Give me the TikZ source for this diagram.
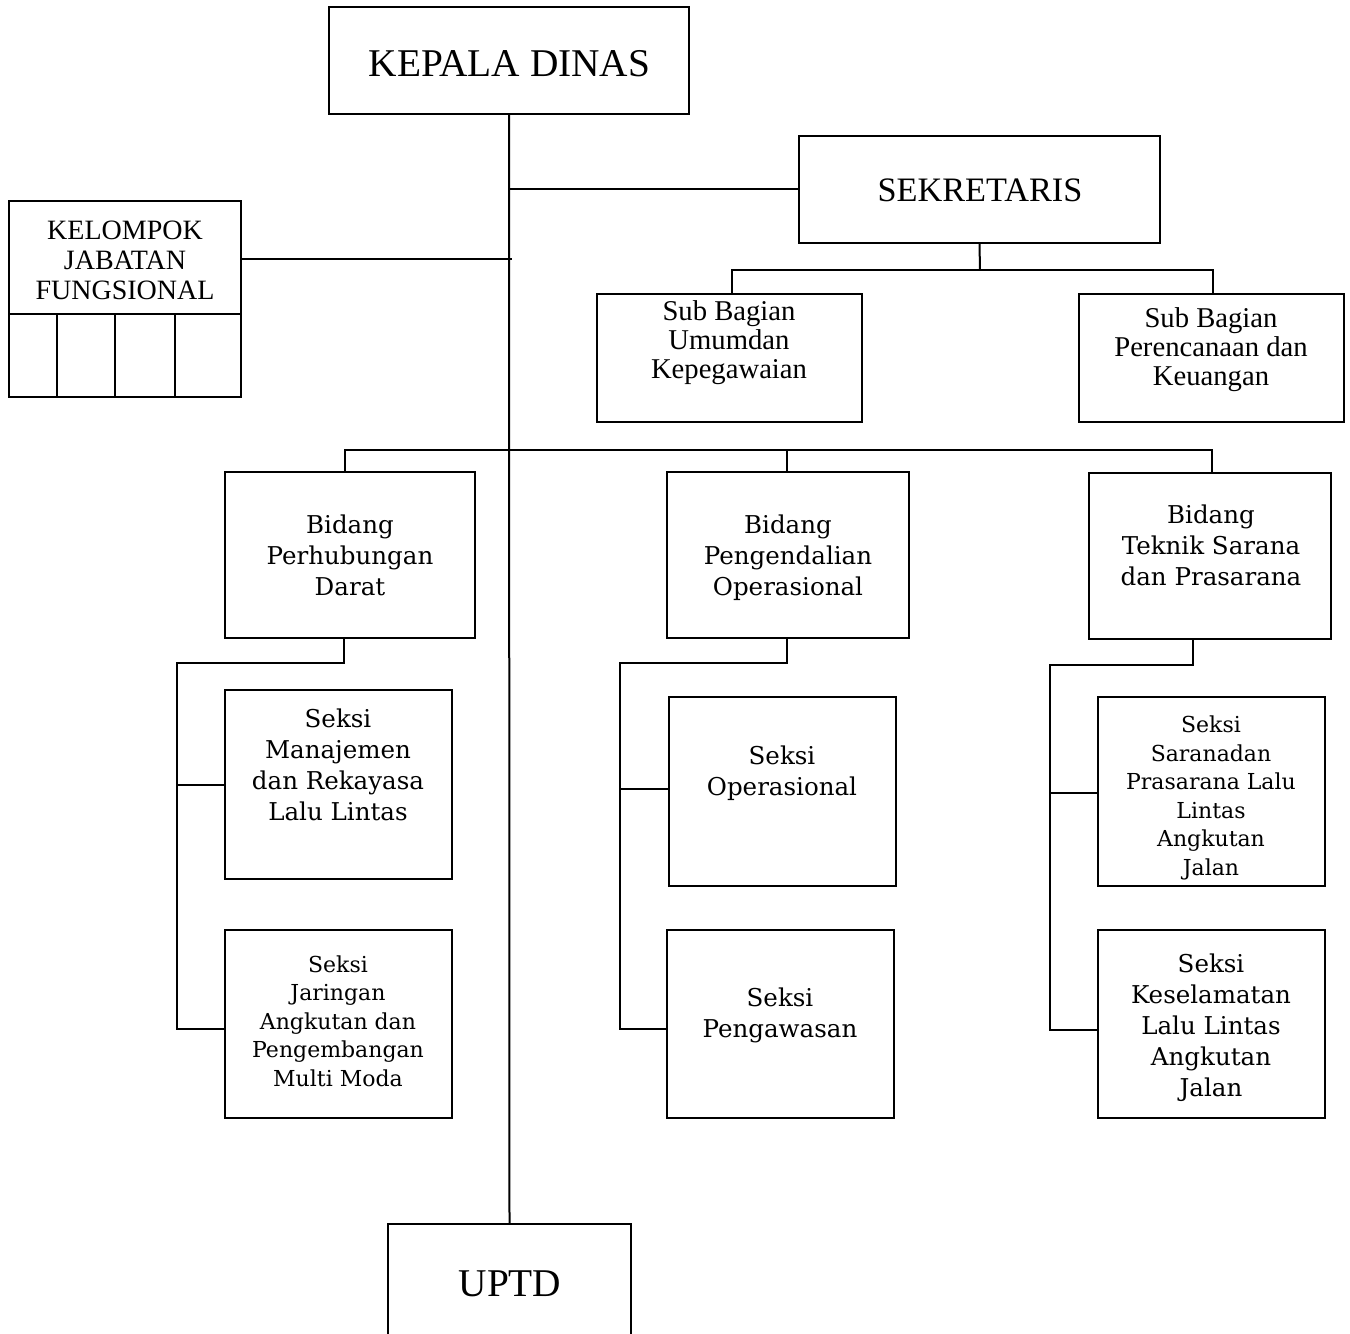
\documentclass[tikz,border=0pt]{standalone}
\usepackage{fontspec}
\setmainfont{DejaVu Serif}
\newfontfamily\headfont{Liberation Serif}
\usetikzlibrary{fit}
\begin{document}
\begin{tikzpicture}[x=0.75pt,y=-0.75pt,
  line width=1.5pt,
  box/.style={draw,inner sep=0pt,rectangle},
  frame/.style={inner sep=0pt,rectangle},
  txt/.style={inner sep=0pt,align=center},
  big/.style={txt,font=\fontsize{18.4}{23.2}\selectfont},
  small/.style={txt,font=\fontsize{16.5}{21.4}\selectfont},
  head/.style={txt,font=\headfont\fontsize{29.5}{34}\selectfont},
  sub/.style={txt,font=\headfont\fontsize{21.5}{21.8}\selectfont},
]
\useasboundingbox (0,0) rectangle (1350,1334);

% top level
\node[box,fit={(329,7) (689,114)}] (kd) {};
\node[head] (kdt) at (509.5,64) {KEPALA DINAS};
\node[box,fit={(799,136) (1160,243)}] (sek) {};
\node[head,font=\headfont\fontsize{25.7}{30}\selectfont] (sekt) at (980,190) {SEKRETARIS};

% functional group with its empty cells
\node[box,fit={(9,201) (241,314)}] (kjf) {};
\node[txt,font=\headfont\fontsize{21}{22.5}\selectfont] (kjft) at (125,260) {KELOMPOK\\JABATAN\\FUNGSIONAL};
\node[box,fit={(9,314) (57,397)}] (c1) {};
\node[box,fit={(57,314) (115,397)}] (c2) {};
\node[box,fit={(115,314) (175,397)}] (c3) {};
\node[box,fit={(175,314) (241,397)}] (c4) {};

% sub divisions of the secretariat
\node[box,fit={(597,294) (862,422)}] (sbu) {};
\node[sub] (sbut) at (729,343) {Sub Bagian\\Umumdan\\Kepegawaian};
\node[box,fit={(1079,294) (1344,422)}] (sbp) {};
\node[sub] (sbpt) at (1211,350) {Sub Bagian\\Perencanaan dan\\Keuangan};

% divisions
\node[box,fit={(225,472) (475,638)}] (bpd) {};
\node[big] (bpdt) at (350,555) {Bidang\\Perhubungan\\Darat};
\node[box,fit={(667,472) (909,638)}] (bpo) {};
\node[big] (bpot) at (788,558) {Bidang\\Pengendalian\\Operasional};
\node[box,fit={(1089,473) (1331,639)}] (btk) {};
\node[big] (btkt) at (1211,545) {Bidang\\Teknik Sarana\\dan Prasarana};

% sections
\node[box,fit={(225,690) (452,879)}] (smr) {};
\node[big] (smrt) at (338,765) {Seksi\\Manajemen\\dan Rekayasa\\Lalu Lintas};
\node[box,fit={(225,930) (452,1118)}] (sjr) {};
\node[small] (sjrt) at (338,1021) {Seksi\\Jaringan\\Angkutan dan\\Pengembangan\\Multi Moda};
\node[box,fit={(669,697) (896,886)}] (sop) {};
\node[big] (sopt) at (782,773) {Seksi\\Operasional};
\node[box,fit={(667,930) (894,1118)}] (spw) {};
\node[big] (spwt) at (780,1015) {Seksi\\Pengawasan};
\node[box,fit={(1098,697) (1325,886)}] (ssr) {};
\node[small] (ssrt) at (1211,798) {Seksi\\Saranadan\\Prasarana Lalu\\Lintas\\Angkutan\\Jalan};
\node[box,fit={(1098,930) (1325,1118)}] (skl) {};
\node[big] (sklt) at (1211,1028) {Seksi\\Keselamatan\\Lalu Lintas\\Angkutan\\Jalan};

% technical unit, running off the bottom edge
\node[frame,fit={(389,1225) (630,1334)}] (uptd) {};
\draw (uptd.south west) |- (uptd.north east) -- (uptd.south east);
\node[head] (uptdt) at (510,1284) {UPTD};

% main spine and branches
\draw (kd.south) -- (uptd.north);
\draw (kd.south |- sek.west) -- (sek.west);
\coordinate (kj) at (512,259);
\draw (kjf.east |- kj) -- (kj);

% secretariat to its sub divisions
\coordinate (sj) at (980,270);
\coordinate (sl) at (732,270);
\coordinate (sr) at (1213,270);
\draw (sek.south) -- (sj);
\draw (sl |- sbu.north) -- (sl) -- (sr) -- (sr |- sbp.north);

% bus to the divisions
\coordinate (bl) at (345,450);
\coordinate (bm) at (787,450);
\coordinate (br) at (1212,450);
\draw (bl |- bpd.north) -- (bl) -- (br) -- (br |- btk.north);
\draw (bm |- bpo.north) -- (bm);

% left division to its sections
\coordinate (lt) at (344,663);
\coordinate (lv) at (177,663);
\coordinate (l1) at (177,785);
\coordinate (l2) at (177,1029);
\draw (lt |- bpd.south) -- (lt) -- (lv) -- (l2) -- (l2 -| sjr.west);
\draw (l1) -- (l1 -| smr.west);

% middle division to its sections
\coordinate (mt) at (787,663);
\coordinate (mv) at (620,663);
\coordinate (m1) at (620,789);
\coordinate (m2) at (620,1029);
\draw (mt |- bpo.south) -- (mt) -- (mv) -- (m2) -- (m2 -| spw.west);
\draw (m1) -- (m1 -| sop.west);

% right division to its sections
\coordinate (rt) at (1193,665);
\coordinate (rv) at (1050,665);
\coordinate (r1) at (1050,793);
\coordinate (r2) at (1050,1030);
\draw (rt |- btk.south) -- (rt) -- (rv) -- (r2) -- (r2 -| skl.west);
\draw (r1) -- (r1 -| ssr.west);
\end{tikzpicture}
\end{document}
